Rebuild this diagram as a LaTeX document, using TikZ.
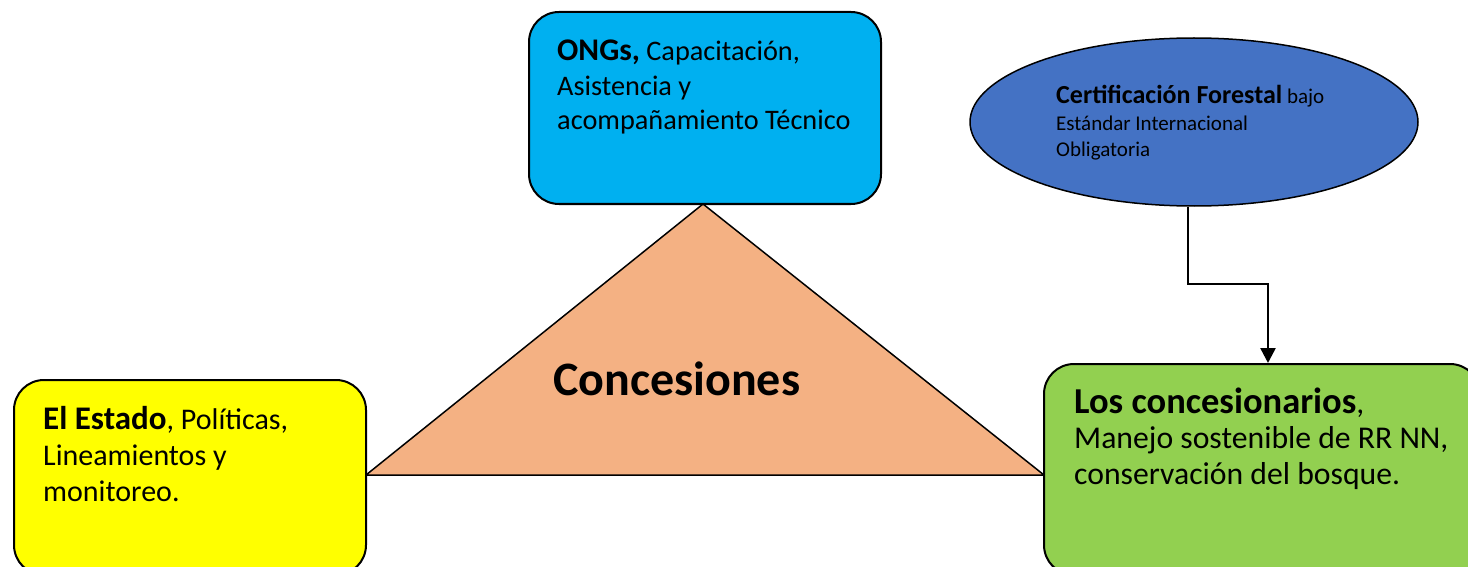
\documentclass[tikz,border=0pt]{standalone}
\usepackage{fontspec}
\setmainfont{Carlito}
\usetikzlibrary{arrows.meta,shapes.geometric}
\definecolor{ongblue}{HTML}{00B0F0}
\definecolor{estyellow}{HTML}{FFFF00}
\definecolor{congreen}{HTML}{92D050}
\definecolor{certblue}{HTML}{4472C4}
\definecolor{triorange}{HTML}{F4B183}
\newcommand\bigbold[2]{{\fontsize{#1}{#1}\selectfont\bfseries #2}}
\tikzset{
  box/.style={draw=black, line width=2pt, rounded corners=30pt, inner sep=0pt},
  txt/.style={anchor=base west, align=left, inner sep=0pt, text=black},
  conn/.style={draw=black, line width=2.5pt, -{Triangle[length=15pt,width=15pt]}},
}
\begin{document}
\begin{tikzpicture}[x=1pt,y=-1pt]
\useasboundingbox (0,0) rectangle (1468,567);
% triangle
\coordinate (apex) at (703,204);
\coordinate (tl) at (366,475);
\coordinate (tr) at (1044,475);
\draw[fill=triorange, line width=1.5pt] (apex) -- (tl) -- (tr) -- cycle;
% boxes
\node[box, fill=ongblue, minimum width=352pt, minimum height=192pt] (ongs) at (705,108) {};
\node[box, fill=estyellow, minimum width=352pt, minimum height=195pt] (estado) at (190,477.5) {};
\node[box, fill=congreen, minimum width=436pt, minimum height=211pt] (conc) at (1262,469.5) {};
\node[draw=black, line width=1.5pt, fill=certblue, ellipse, minimum width=448pt, minimum height=168pt, inner sep=0pt] (cert) at (1194,122) {};
% texts (anchor = baseline of the last line)
\node[txt, font=\fontsize{28.3}{34.5}\selectfont] (ongst) at (557,130) {\bigbold{31.5}{ONGs,} Capacitación,\\Asistencia y\\acompañamiento Técnico};
\node[txt, font=\fontsize{30}{36}\selectfont] (estadot) at (43,501) {\bigbold{33}{El Estado}, Políticas,\\Lineamientos y\\monitoreo.};
\node[txt, font=\fontsize{31.7}{35.5}\selectfont] (conct) at (1074,484) {\bigbold{36.5}{Los concesionarios},\\Manejo sostenible de RR NN,\\conservación del bosque.};
\node[txt, font=\fontsize{21}{26.5}\selectfont] (certt) at (1056,157) {\bigbold{26}{Certificación Forestal} bajo\\Estándar Internacional\\Obligatoria};
\node[txt, font=\bfseries\fontsize{48}{56}\selectfont] (title) at (553,395) {Concesiones};
% connector
\coordinate (bend) at (1268,284);
\draw[conn] (cert.south) ++(-6,0) |- (bend) -- (bend |- conc.north);
\end{tikzpicture}
\end{document}
